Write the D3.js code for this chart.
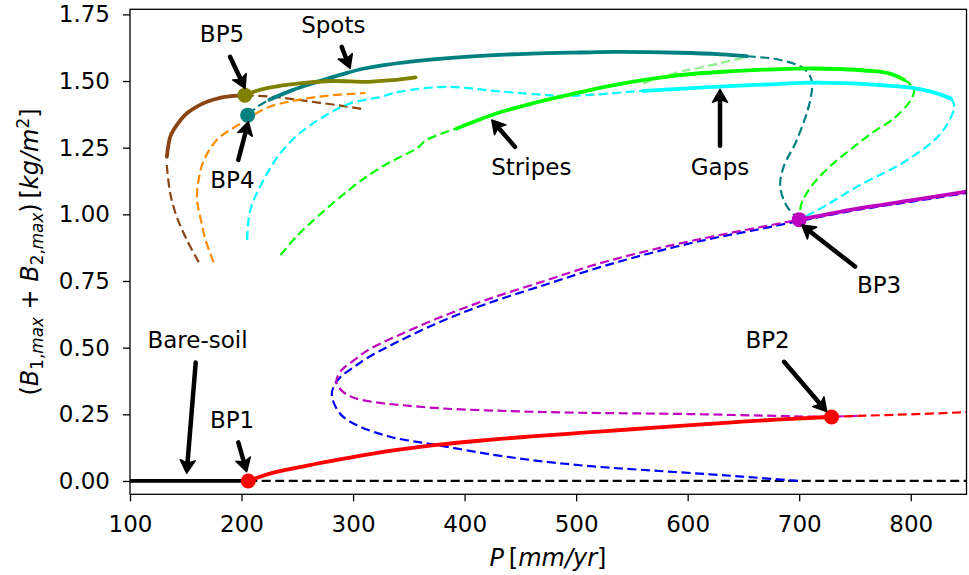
<!DOCTYPE html>
<html><head><meta charset="utf-8">
<script src="https://cdn.jsdelivr.net/npm/d3@7"></script>
<style>body{margin:0;background:#fff;} svg{display:block;} text{font-family:"DejaVu Sans",sans-serif;fill:#000;}</style>
</head><body><svg id="c" width="969" height="575"></svg>
<script>
// ---------------- data (P [mm/yr], B1max+B2max [kg/m^2]) ----------------
const xTicks = [100,200,300,400,500,600,700,800];
const yTicks = [0,0.25,0.5,0.75,1.0,1.25,1.5,1.75];

const bareSoilStable   = [[100,0],[206,0]];
const bareSoilUnstable = [[206,0],[850,0]];

const uniformStable = [[206,0],[212,0.009],[228.5,0.031],[258,0.057],[288,0.081],[318,0.103],[348,0.121],[375,0.135],[408,0.149],[432,0.158],[460,0.167],[503,0.18],[550,0.194],[593,0.207],[640,0.22],[683,0.231],[728,0.24]];
const uniformUnstable = [[728,0.24],[760,0.245],[800,0.25],[850,0.258]];

const magentaUnstable = [[752,0.244],[716,0.241],[680,0.244],[601,0.251],[500,0.256],[441,0.262],[380,0.272],[345,0.284],[320,0.295],[300,0.313],[290,0.338],[285,0.37],[287,0.4],[292,0.425],[300,0.45],[313,0.49],[340,0.545],[377,0.612],[420,0.68],[473,0.752],[520,0.815],[569,0.868],[620,0.915],[665,0.952],[700,0.98]];
const magentaStable = [[700,0.98],[750,1.02],[800,1.052],[850,1.085]];

const blueUnstable = [[699,0.0],[660,0.013],[620,0.025],[569,0.039],[520,0.053],[473,0.072],[426,0.098],[375,0.135],[333,0.166],[303,0.21],[290,0.245],[283,0.29],[281,0.33],[284,0.365],[290,0.395],[300,0.425],[313,0.462],[340,0.522],[377,0.595],[420,0.665],[473,0.737],[520,0.8],[569,0.857],[620,0.908],[665,0.945],[700,0.975],[750,1.015],[800,1.047],[850,1.08]];

const spotsStable = [[225,1.43],[245,1.465],[268,1.497],[290,1.525],[310,1.547],[350,1.572],[414,1.594],[460,1.603],[504,1.607],[534,1.609],[593,1.606],[630,1.6],[653,1.593]];
const spotsUnstableLow = [[206,1.372],[214,1.403],[225,1.43]];
const spotsUnstableHigh = [[653,1.593],[683,1.579],[704,1.547],[711,1.504],[710,1.43],[698,1.28],[686,1.178],[683,1.104],[689,1.03],[700,0.98]];

const oliveStable = [[203,1.447],[211,1.46],[225,1.475],[252,1.491],[282,1.5],[312,1.497],[335,1.503],[356,1.514]];

const brownStable = [[133,1.216],[136,1.29],[139,1.316],[145,1.352],[151,1.379],[160,1.404],[169,1.422],[180,1.436],[193,1.444],[203,1.447]];
const brownUnstableHigh = [[203,1.447],[230,1.44],[260,1.424],[290,1.407],[310,1.394]];
const brownUnstableLow = [[133,1.185],[136,1.08],[142,0.99],[151,0.904],[163,0.81]];

const orangeUnstable = [[175,0.82],[168,0.9],[163,0.99],[160,1.06],[162,1.14],[166,1.2],[178,1.28],[199,1.34],[223,1.4],[252,1.43],[282,1.447],[311,1.455]];

const gapsUnstableLow = [[205,0.904],[207,1.0],[211,1.054],[223,1.154],[235,1.23],[252,1.304],[275,1.37],[297,1.416],[324,1.44],[342,1.46],[384,1.478],[429,1.462],[474,1.447],[489,1.444],[520,1.45],[549,1.46],[560,1.463]];
const gapsStable = [[560,1.463],[623,1.478],[670,1.487],[713,1.494],[773,1.485],[800,1.475],[818,1.46],[836,1.435]];
const gapsUnstableHigh = [[836,1.435],[839,1.403],[827,1.304],[797,1.204],[752,1.104],[722,1.029],[700,0.98]];

const stripesUnstableLow = [[235,0.847],[250,0.92],[268,0.991],[290,1.07],[312,1.141],[335,1.2],[357,1.247],[366,1.279],[393,1.322]];
const stripesStable = [[393,1.322],[429,1.379],[460,1.415],[489,1.444],[534,1.485],[593,1.522],[640,1.537],[677,1.544],[713,1.547],[767,1.537],[782,1.527],[794,1.505]];
const stripesUnstableHigh = [[794,1.505],[803,1.472],[800,1.429],[785,1.36],[767,1.31],[745,1.24],[725,1.17],[710,1.1],[702,1.04],[700,0.98]];

const lightGreenUnstable = [[560,1.491],[593,1.535],[608,1.547],[630,1.568],[653,1.59]];

// bifurcation points
const bpNames  = ["BP1","BP2","BP3","BP4","BP5"];
const bpPoints = [[206,0.0],[729,0.24],[700,0.98],[205.5,1.372],[203,1.447]];

// annotations: label, text position (centre, baseline), arrow tail, arrow tip (all in data units)
const annLabels = ["Spots","BP5","BP4","Stripes","Gaps","BP3","BP2","Bare-soil","BP1"];
const annText   = [[282.3,1.68],[182.5,1.647],[191.9,1.098],[459.8,1.147],[629,1.147],[771.6,0.706],[671.6,0.498],[160.5,0.498],[191.5,0.198]];
const annTail   = [[289.8,1.628],[189.7,1.591],[197.1,1.204],[445.2,1.253],[629,1.257],[750.1,0.804],[686.4,0.447],[158.9,0.444],[197.1,0.145]];
const annTip    = [[297.3,1.547],[203.1,1.472],[206.1,1.347],[424.3,1.354],[629,1.469],[702.3,0.96],[724.7,0.26],[150.8,0.029],[204.6,0.035]];

// ---------------- drawing ----------------
const W=969,H=575;
const L=130,R=966.5,T=9.3,B=494.3;
const svg=d3.select("#c");
const x=d3.scaleLinear().domain([100,850]).range([L,R]);
const y=d3.scaleLinear().domain([-0.05,1.769]).range([B,T]);

svg.append("defs").append("clipPath").attr("id","clip").append("rect")
  .attr("x",L).attr("y",T).attr("width",R-L).attr("height",B-T);

const plot=svg.append("g").attr("clip-path","url(#clip)");
const line=d3.line().x(d=>x(d[0])).y(d=>y(d[1])).curve(d3.curveCatmullRom.alpha(0.5));
const lineMono=d3.line().x(d=>x(d[0])).y(d=>y(d[1])).curve(d3.curveMonotoneX);

const C={black:"#000000",red:"#ff0000",mag:"#bf00bf",blue:"#0000ff",teal:"#008080",olive:"#808000",brown:"#8b4513",orange:"#ff8c00",cyan:"#00ffff",lime:"#00ff00",lgreen:"#90ee90"};
const series=[
  [bareSoilUnstable,C.black,true],
  [blueUnstable,C.blue,true],
  [magentaUnstable,C.mag,true],
  [uniformUnstable,C.red,true],
  [brownUnstableLow,C.brown,true],
  [brownUnstableHigh,C.brown,true],
  [orangeUnstable,C.orange,true],
  [gapsUnstableLow,C.cyan,true],
  [gapsUnstableHigh,C.cyan,true],
  [stripesUnstableLow,C.lime,true],
  [stripesUnstableHigh,C.lime,true],
  [lightGreenUnstable,C.lgreen,true],
  [spotsUnstableLow,C.teal,true],
  [spotsUnstableHigh,C.teal,true],
  [bareSoilStable,C.black,false],
  [uniformStable,C.red,false,true],
  [magentaStable,C.mag,false],
  [brownStable,C.brown,false],
  [gapsStable,C.cyan,false],
  [stripesStable,C.lime,false],
  [spotsStable,C.teal,false],
  [oliveStable,C.olive,false]
];
series.forEach(([d,c,dash,mono])=>{
  plot.append("path").attr("d",(mono?lineMono:line)(d)).attr("fill","none").attr("stroke",c)
    .attr("stroke-width",dash?2.2:3.8)
    .attr("stroke-dasharray",dash?"9,4.5":null)
    .attr("stroke-linecap",dash?"butt":"round");
});

const bpColors=[C.red,C.red,C.mag,C.teal,C.olive];
svg.append("g").selectAll("circle").data(bpPoints).join("circle")
  .attr("cx",d=>x(d[0])).attr("cy",d=>y(d[1])).attr("r",7.5)
  .attr("fill",(d,i)=>bpColors[i]);

// frame
svg.append("rect").attr("x",L).attr("y",T).attr("width",R-L).attr("height",B-T)
  .attr("fill","none").attr("stroke","#000").attr("stroke-width",1.3);

// axes
const fs=23;
const xa=svg.append("g").attr("transform",`translate(0,${B})`)
  .call(d3.axisBottom(x).tickValues(xTicks).tickSize(7).tickPadding(14).tickFormat(d3.format("d")));
const ya=svg.append("g").attr("transform",`translate(${L},0)`)
  .call(d3.axisLeft(y).tickValues(yTicks).tickSize(7).tickPadding(13).tickFormat(d3.format(".2f")));
[xa,ya].forEach(a=>{
  a.select(".domain").remove();
  a.selectAll(".tick line").attr("stroke","#000").attr("stroke-width",1.3);
  a.selectAll(".tick text").attr("font-size",fs).attr("font-family","DejaVu Sans").attr("fill","#000");
});

// arrows
const ag=svg.append("g");
annTail.forEach((t,i)=>{
  const x0=x(t[0]),y0=y(t[1]),x1=x(annTip[i][0]),y1=y(annTip[i][1]);
  const dx=x1-x0,dy=y1-y0,len=Math.hypot(dx,dy),ux=dx/len,uy=dy/len;
  const hl=13,hw=7.5;
  const bx=x1-ux*hl,by=y1-uy*hl;
  ag.append("line").attr("x1",x0).attr("y1",y0).attr("x2",bx+ux*2).attr("y2",by+uy*2)
    .attr("stroke","#000").attr("stroke-width",4.5).attr("stroke-linecap","round");
  ag.append("path").attr("d",`M${x1},${y1}L${bx-uy*hw},${by+ux*hw}L${bx+ux*3},${by+uy*3}L${bx+uy*hw},${by-ux*hw}Z`)
    .attr("fill","#000").attr("stroke","#000").attr("stroke-width",1.5).attr("stroke-linejoin","round");
});
// annotation texts
svg.append("g").selectAll("text").data(annLabels).join("text")
  .attr("x",(d,i)=>x(annText[i][0])).attr("y",(d,i)=>y(annText[i][1]))
  .attr("text-anchor","middle").attr("font-size",fs).text(d=>d);

// axis labels (math style)
function mathText(g,parts,size){
  const t=g.append("text").attr("font-size",size);
  let shift=0;
  parts.forEach(p=>{
    const s=p.sub?size*0.7:(p.sup?size*0.7:size);
    const target=p.sub?size*0.22:(p.sup?-size*0.36:0);
    t.append("tspan").attr("font-size",s).attr("font-style",p.i?"italic":"normal")
      .attr("dy",target-shift).text(p.t);
    shift=target;
  });
  return t;
}
const xl=svg.append("g").attr("transform","translate(548,566)");
mathText(xl,[{t:"P",i:true},{t:"\u2009[",i:false},{t:"mm/yr",i:true},{t:"]",i:false}],24).attr("text-anchor","middle");
const yl=svg.append("g").attr("transform","translate(38,252) rotate(-90)");
mathText(yl,[{t:"(",i:false},{t:"B",i:true},{t:"1,",sub:true},{t:"max",i:true,sub:true},{t:" + ",i:false},{t:"B",i:true},{t:"2,",sub:true},{t:"max",i:true,sub:true},{t:")\u2009[",i:false},{t:"kg/m",i:true},{t:"2",sup:true},{t:"]",i:false}],24).attr("text-anchor","middle");
</script></body></html>
